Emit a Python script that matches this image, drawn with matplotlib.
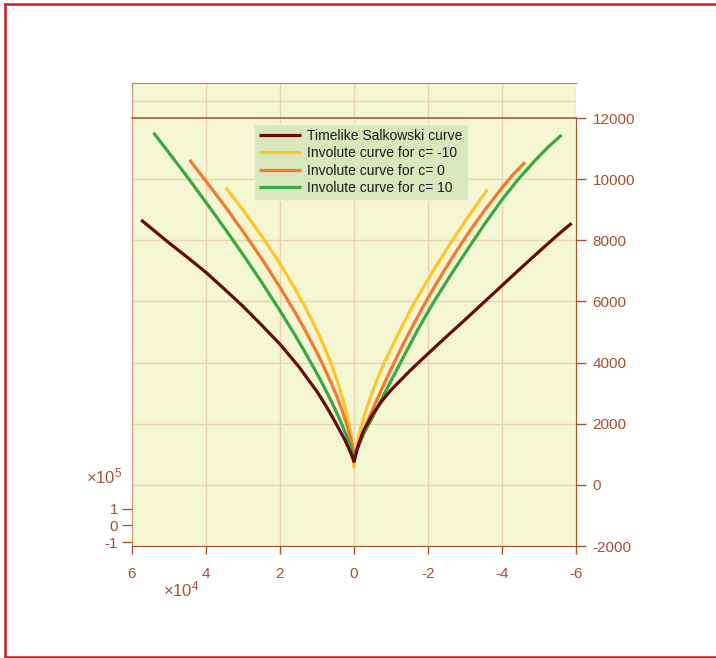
import numpy as np
import matplotlib
matplotlib.use('Agg')
import matplotlib.pyplot as plt
from matplotlib.lines import Line2D

plt.rcParams['font.family'] = ['Liberation Sans', 'DejaVu Sans']
plt.rcParams['mathtext.fontset'] = 'custom'
plt.rcParams['mathtext.rm'] = 'Liberation Sans'

# curves: x in units of 1e4, z as plotted
salk_x = [5.753, 5.0, 4.5, 4.0, 3.5, 3.0, 2.5, 2.0, 1.5, 1.0, 0.75, 0.5, 0.25, 0.1, 0.05, 0.0,
          -0.05, -0.1, -0.25, -0.5, -0.75, -1.0, -1.5, -2.0, -2.5, -3.0, -3.5, -4.0, -4.5,
          -5.0, -5.5, -5.881]
salk_z = [8665, 7915, 7440, 6950, 6400, 5840, 5230, 4600, 3880, 3050, 2570, 2040, 1480, 1080, 930, 760,
          1000, 1220, 1750, 2300, 2740, 3100, 3720, 4290, 4850, 5400, 5960, 6520, 7080,
          7630, 8170, 8558]

inv_m10_x = [3.465, 3.0, 2.5, 2.0, 1.6, 1.3, 1.0, 0.8, 0.6, 0.45, 0.3, 0.2, 0.1, 0.05, 0.0,
             -0.05, -0.1, -0.2, -0.3, -0.45, -0.6, -0.8, -1.0, -1.3, -1.6, -2.0, -2.5,
             -3.0, -3.609]
inv_m10_z = [9722, 8992, 8150, 7237, 6431, 5772, 5042, 4502, 3904, 3397, 2808, 2346, 1765, 1377, 589,
             1126, 1441, 1934, 2347, 2886, 3367, 3949, 4450, 5190, 5880, 6720, 7700,
             8620, 9670]

inv_0_x = [4.442, 4.0, 3.5, 3.0, 2.5, 2.0, 1.6, 1.3, 1.0, 0.8, 0.6, 0.45, 0.3, 0.2, 0.1, 0.05, 0.0,
           -0.05, -0.1, -0.2, -0.361, -0.5, -0.725, -0.9, -1.085, -1.3, -1.539, -1.85,
           -2.179, -2.632, -3.085, -3.536, -3.989, -4.3, -4.622]
inv_0_z = [10627, 9932, 9134, 8291, 7406, 6463, 5658, 5014, 4322, 3825, 3290, 2852, 2366, 1998, 1570, 1306, 880,
           1120, 1290, 1600, 2070, 2460, 3070, 3530, 4000, 4530, 5090, 5790,
           6490, 7390, 8230, 8990, 9700, 10150, 10553]

inv_10_x = [5.419, 5.0, 4.5, 4.0, 3.5, 3.0, 2.5, 2.0, 1.6, 1.3, 1.0, 0.8, 0.6, 0.45, 0.3, 0.2, 0.1, 0.05, 0.0,
            -0.05, -0.1, -0.2, -0.3, -0.453, -0.6, -0.8, -1.0, -1.267, -1.5, -1.718, -2.0,
            -2.179, -2.632, -3.085, -3.536, -3.989, -4.442, -4.9, -5.256, -5.609]
inv_10_z = [11520, 10862, 10064, 9240, 8400, 7534, 6636, 5696, 4909, 4290, 3640, 3183, 2701, 2316, 1902, 1601, 1265, 1070, 800,
            1040, 1210, 1500, 1760, 2100, 2450, 2930, 3400, 4020, 4560, 5060, 5660,
            6030, 6900, 7730, 8540, 9310, 10000, 10620, 11060, 11445]

labels = ['Timelike Salkowski curve', 'Involute curve for c= -10',
          'Involute curve for c= 0', 'Involute curve for c= 10']
colors = ['#680a0c', '#ffc62a', '#f5792c', '#3aa845']

x_ticks = [6, 4, 2, 0, -2, -4, -6]
z_ticks = [-2000, 0, 2000, 4000, 6000, 8000, 10000, 12000]
y_ticks = [-1, 0, 1]

bg = '#f5f6d2'
grid_c = '#e8d3ad'
axis_c = '#a9502f'

W, H = 716, 658


def rect(x0, y0, x1, y1):
    return [x0 / W, 1 - y1 / H, (x1 - x0) / W, (y1 - y0) / H]


fig = plt.figure(figsize=(7.16, 6.58), dpi=100)

# main panel
ax = fig.add_axes(rect(132, 118, 576, 546))
ax.set_facecolor(bg)
ax.set_xlim(6e4, -6e4)
ax.set_ylim(-2000, 12000)
ax.set_xticks([t * 1e4 for t in x_ticks])
ax.set_xticklabels([str(t) for t in x_ticks])
ax.set_yticks(z_ticks)
ax.set_yticklabels([str(t) for t in z_ticks])
ax.yaxis.tick_right()
ax.tick_params(axis='x', direction='out', length=6, width=1, colors=axis_c,
               labelsize=11, pad=9)
ax.tick_params(axis='y', direction='out', length=7, width=1, colors=axis_c,
               labelsize=11, pad=5)
ax.grid(True, color=grid_c, lw=1)
ax.set_axisbelow(True)
ax.spines['top'].set_visible(False)
ax.spines['left'].set_color('#c89a7a')
ax.spines['bottom'].set_color(axis_c)
ax.spines['right'].set_color(axis_c)

series = [(salk_x, salk_z), (inv_m10_x, inv_m10_z), (inv_0_x, inv_0_z), (inv_10_x, inv_10_z)]
zords = [6, 3, 4, 5]
for (xs, zs), lab, col, zo in zip(series, labels, colors, zords):
    ax.plot(np.array(xs) * 1e4, zs, color=col, lw=2.3, label=lab, zorder=zo,
            solid_capstyle='butt', solid_joinstyle='round')

leg = ax.legend(loc='upper left', bbox_to_anchor=(254 / W, 1 - 124 / H),
                bbox_transform=fig.transFigure, fontsize=10, handlelength=3.0,
                handletextpad=0.5, labelspacing=0.25, borderpad=0.35,
                borderaxespad=0, fancybox=False, framealpha=1)
leg.get_frame().set_facecolor('#d9e7bd')
leg.get_frame().set_edgecolor('#eef2dc')
for t in leg.get_texts():
    t.set_color('#1a1a1a')

# top strip of the box
ax_top = fig.add_axes(rect(132, 83, 576, 118))
ax_top.set_facecolor(bg)
ax_top.set_xlim(6e4, -6e4)
ax_top.set_ylim(0, 2)
ax_top.set_xticks([t * 1e4 for t in x_ticks])
ax_top.set_yticks([1])
ax_top.tick_params(length=0, labelleft=False, labelbottom=False)
ax_top.grid(True, color=grid_c, lw=1)
ax_top.spines['bottom'].set_color('#a0604a')
ax_top.spines['bottom'].set_linewidth(1.2)
ax_top.spines['top'].set_color('#c8825f')
ax_top.spines['left'].set_color('#c89a7a')
ax_top.spines['right'].set_visible(False)

# short y axis in front
ax_y = fig.add_axes(rect(132, 505, 140, 545))
ax_y.patch.set_visible(False)
for s in ax_y.spines.values():
    s.set_visible(False)
ax_y.set_ylim(-1.18, 1.24)
ax_y.set_yticks(y_ticks)
ax_y.set_yticklabels([str(t) for t in y_ticks])
ax_y.set_xticks([])
ax_y.tick_params(axis='y', direction='out', length=7, width=1, colors=axis_c,
                 labelsize=11, pad=3)

fig.text(181 / W, 1 - 589 / H, r'$\mathregular{\times10^{4}}$', color=axis_c,
         fontsize=12, ha='center', va='center')
fig.text(104 / W, 1 - 476 / H, r'$\mathregular{\times10^{5}}$', color=axis_c,
         fontsize=12, ha='center', va='center')

# red frame round the figure
red = '#c8202a'
fig.add_artist(Line2D([5 / W, 5 / W], [1 - 657 / H, 1 - 4 / H], color=red, lw=1.8,
                      transform=fig.transFigure))
fig.add_artist(Line2D([5 / W, 1], [1 - 4 / H, 1 - 4 / H], color=red, lw=1.8,
                      transform=fig.transFigure))
fig.add_artist(Line2D([5 / W, 1], [1 - 657 / H, 1 - 657 / H], color=red, lw=1.8,
                      transform=fig.transFigure))

fig.savefig('out.png', dpi=100, facecolor='white')
